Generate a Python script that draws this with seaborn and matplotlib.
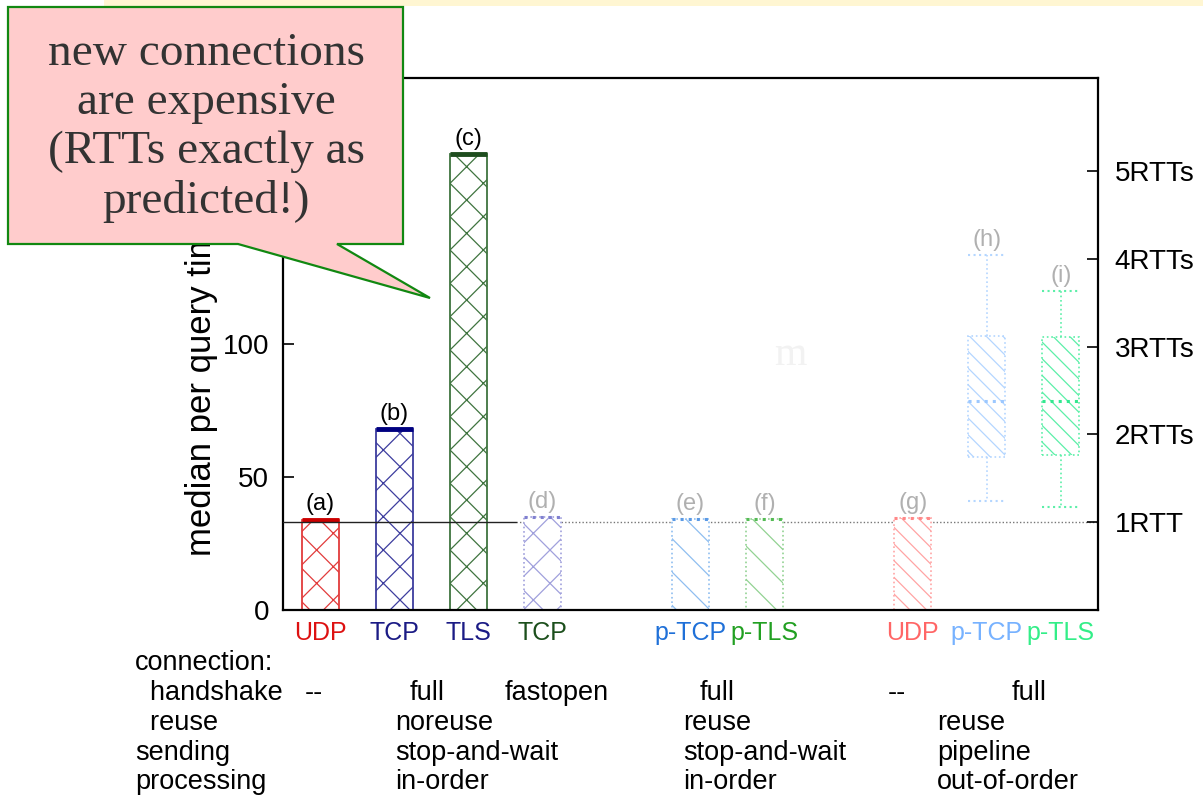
import matplotlib
matplotlib.use("Agg")
import matplotlib.pyplot as plt
from matplotlib.patches import Polygon, Rectangle
import pandas as pd
import seaborn as sns

# ---------------- data ----------------
RTT_MS = 33
bar_labels = ["(a)", "(b)", "(c)", "(d)", "(e)", "(f)", "(g)"]
bar_positions = [0, 1, 2, 3, 5, 6, 8]
bar_medians = [34, 68, 171.5, 35, 34.3, 34.3, 34.7]

box_labels = ["(h)", "(i)"]
box_positions = [9, 10]
box_whislo = [40.8, 38.6]
box_q1 = [57.7, 58.2]
box_median = [78.6, 78.6]
box_q3 = [103.0, 102.5]
box_whishi = [133.3, 120.0]

protocol_positions = [0, 1, 2, 3, 5, 6, 8, 9, 10]
protocols = ["UDP", "TCP", "TLS", "TCP", "p-TCP", "p-TLS", "UDP", "p-TCP", "p-TLS"]

rtt_multiples = [1, 2, 3, 4, 5]
rtt_tick_labels = ["1RTT", "2RTTs", "3RTTs", "4RTTs", "5RTTs"]
left_ticks = [0, 50, 100]

row_titles = ["connection:", "  handshake", "  reuse", "sending", "processing"]
handshake_cells = ["--", "full", "fastopen", "full", "--", "full"]
reuse_cells = ["noreuse", "reuse", "reuse"]
sending_cells = ["stop-and-wait", "stop-and-wait", "pipeline"]
processing_cells = ["in-order", "in-order", "out-of-order"]

callout_text = "new connections\nare expensive\n(RTTs exactly as\npredicted!)"

# ---------------- styles ----------------
bar_edge = ["#e23c3c", "#3d3d9e", "#3f743f", "#a0a0dc", "#8fbef0", "#92d292", "#ffa4a4"]
bar_top = ["#cc0000", "#000080", "#1e4d1e", "#8080d0", "#5a9ae6", "#55bb55", "#ff8888"]
bar_hatch = ["x", "x", "x", "x", "\\", "\\", "\\\\"]
bar_faded = [False, False, False, True, True, True, True]
box_edge = ["#b4d6ff", "#5cefa8"]
box_median_color = ["#9cc8ff", "#33e890"]
label_colors = ["#dd1111", "#1b1b85", "#1b1b85", "#1c4f1c", "#1f70d8",
                "#22a022", "#ff6666", "#77b2ff", "#33ee88"]

W, H = 1203, 799


def fx(px):
    return px / W


def fy(py):
    return 1 - py / H


sns.set_theme(style="white")
plt.rcParams["font.family"] = ["Liberation Sans", "DejaVu Sans"]
plt.rcParams["hatch.linewidth"] = 0.9
plt.rcParams["text.color"] = "black"

fig = plt.figure(figsize=(W / 100, H / 100), dpi=100)
ax = fig.add_axes([fx(283), fy(610), fx(1098) - fx(283), fy(78) - fy(610)])

df = pd.DataFrame({"pos": bar_positions, "median": bar_medians})
sns.barplot(data=df, x="pos", y="median", native_scale=True, width=0.5,
            color="white", ax=ax, errorbar=None, zorder=2)

for patch, ec, hatch, faded in zip(ax.patches, bar_edge, bar_hatch, bar_faded):
    patch.set_facecolor("white")
    patch.set_edgecolor(ec)
    patch.set_hatch(hatch)
    patch.set_linewidth(1.3 if not faded else 1.2)
    patch.set_linestyle(":" if faded else "-")

# thick median marker on top of each bar
for x, y, c, faded in zip(bar_positions, bar_medians, bar_top, bar_faded):
    ax.plot([x - 0.25, x + 0.25], [y, y], color=c,
            lw=2.2 if faded else 3.5, ls=":" if faded else "-",
            solid_capstyle="butt", zorder=4)

# box plots for the pipelined, out-of-order runs
stats = [dict(med=m, q1=a, q3=b, whislo=lo, whishi=hi, fliers=[])
         for lo, a, m, b, hi in zip(box_whislo, box_q1, box_median, box_q3, box_whishi)]
for st, p, ec, mc in zip(stats, box_positions, box_edge, box_median_color):
    ax.bxp([st], positions=[p], widths=0.5, capwidths=0.5, patch_artist=True,
           showfliers=False,
           boxprops=dict(facecolor="white", edgecolor=ec, hatch="\\\\",
                         linestyle=":", linewidth=1.2),
           whiskerprops=dict(color=ec, linestyle=":", linewidth=1.2),
           capprops=dict(color=ec, linestyle=":", linewidth=1.5),
           medianprops=dict(color=mc, linestyle=":", linewidth=2.2),
           manage_ticks=False, zorder=2)

# 1 RTT reference line
ax.plot([-0.5, 2.65], [RTT_MS, RTT_MS], color="#222222", lw=1.0, zorder=5)
ax.plot([2.65, 10.5], [RTT_MS, RTT_MS], color="#777777", lw=1.0, ls=(0, (1, 1.5)), zorder=1)

# labels above the marks
for x, y, t, faded in zip(bar_positions, bar_medians, bar_labels, bar_faded):
    ax.annotate(t, (x, y), xytext=(0, 3), textcoords="offset points",
                ha="center", va="bottom", fontsize=17,
                color="#b0b0b0" if faded else "black")
for x, y, t in zip(box_positions, box_whishi, box_labels):
    ax.annotate(t, (x, y), xytext=(0, 3), textcoords="offset points",
                ha="center", va="bottom", fontsize=17, color="#b0b0b0")

ax.set_xlim(-0.5, 10.5)
ax.set_ylim(0, 200)
ax.set_yticks(left_ticks)
ax.set_yticklabels([str(v) for v in left_ticks])
ax.tick_params(axis="y", direction="in", length=8, width=1.2, labelsize=20, pad=10,
               colors="black", left=True)
ax.set_xticks(protocol_positions)
ax.set_xticklabels(protocols)
ax.tick_params(axis="x", length=0, labelsize=18, pad=8)
for lbl, c in zip(ax.get_xticklabels(), label_colors):
    lbl.set_color(c)
for side in ["left", "right", "top", "bottom"]:
    ax.spines[side].set_visible(True)
    ax.spines[side].set_color("black")
    ax.spines[side].set_linewidth(1.6)
ax.set_xlabel("")
ax.set_ylabel("median per query time (ms)", fontsize=25, color="black")
ax.yaxis.set_label_coords(-0.08, 0.5)

ax2 = ax.twinx()
ax2.set_ylim(ax.get_ylim())
ax2.set_yticks([k * RTT_MS for k in rtt_multiples])
ax2.set_yticklabels(rtt_tick_labels)
ax2.tick_params(axis="y", direction="in", length=8, width=1.2, labelsize=20, pad=12,
                right=True, colors="black")
ax2.grid(False)
for side in ["left", "right", "top", "bottom"]:
    ax2.spines[side].set_visible(False)

# faint ghost glyph in the plot area
fig.text(fx(790), fy(355), "m", fontsize=30, color="#f2f2f2",
         ha="center", va="center", family=["Liberation Serif", "DejaVu Serif"])

# configuration table under the axis
tfs = 19.5
row_y = [663, 693, 723, 753, 782]
for t, y in zip(row_titles, row_y):
    fig.text(fx(135), fy(y), t, fontsize=tfs, ha="left", va="center", color="black")
for t, x in zip(handshake_cells, [305, 410, 505, 700, 888, 1012]):
    fig.text(fx(x), fy(row_y[1]), t, fontsize=tfs, ha="left", va="center", color="black")
for cells, y in zip([reuse_cells, sending_cells, processing_cells], row_y[2:]):
    for t, x in zip(cells, [395, 683, 937]):
        fig.text(fx(x), fy(y), t, fontsize=tfs, ha="left", va="center", color="black")

# slide banner strip at the very top
fig.add_artist(Rectangle((fx(104), fy(6)), 1 - fx(104), 6 / H,
                         transform=fig.transFigure, facecolor="#fff6d2",
                         edgecolor="none", zorder=0))

# speech-bubble callout
bubble_px = [(8, 7), (403, 7), (403, 244), (337, 244), (430, 298),
             (238, 244), (8, 244)]
bubble = Polygon([(fx(x), fy(y)) for x, y in bubble_px], closed=True,
                 transform=fig.transFigure, facecolor="#ffcccc",
                 edgecolor="#118811", linewidth=1.6, zorder=10)
fig.add_artist(bubble)
fig.text(fx(206), fy(128), callout_text, fontsize=34, color="#333333",
         ha="center", va="center", multialignment="center", linespacing=1.2,
         family=["Liberation Serif", "DejaVu Serif"], zorder=11)

fig.savefig("out.png", dpi=100)
